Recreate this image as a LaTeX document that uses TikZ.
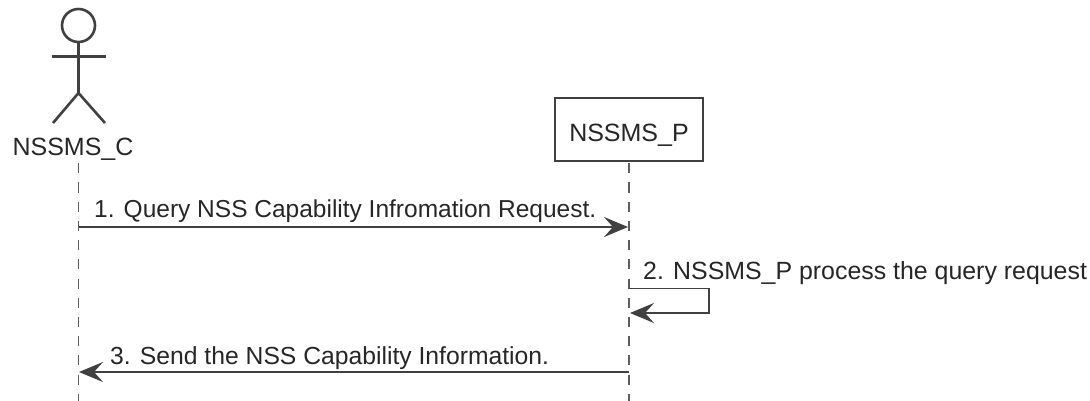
\documentclass[tikz,border=0pt]{standalone}
\usepackage{fontspec}
\setmainfont{Liberation Sans}
\usetikzlibrary{arrows.meta}
\definecolor{ink}{HTML}{404040}
\tikzset{
  x=1pt,y=-1pt,
  lifeline/.style={draw=ink!85,line width=1.8pt,dash pattern=on 10pt off 9.2pt},
  stick/.style={draw=ink,line width=2.6pt},
  msg/.style={draw=ink,line width=1.7pt,-{Stealth[length=24pt,width=20pt,inset=9pt]}},
  msgtext/.style={text=black!85,font=\fontsize{#1}{28}\selectfont,anchor=base west,inner sep=0pt},
  nametext/.style={text=black!85,font=\fontsize{25}{28}\selectfont,anchor=base,inner sep=0pt},
  partbox/.style={draw=ink,line width=2.6pt,fill=white,minimum width=148pt,minimum height=63pt,inner sep=0pt,
    text height=24.4pt,text depth=0pt,text=black!85,font=\fontsize{25}{28}\selectfont}
}
\begin{document}
\begin{tikzpicture}
\useasboundingbox (0,0) rectangle (1090,401);
\coordinate (ctop) at (78.5,163.3);
\coordinate (cbot) at (78.5,401);
\coordinate (ptop) at (629,163.3);
\coordinate (pbot) at (629,401);
\draw[lifeline] (ctop) -- (cbot);
\draw[lifeline] (ptop) -- (pbot);
\node[partbox] (P) at (629,129.5) {NSSMS\_P};
\node[circle,stick,minimum size=33pt,inner sep=0pt] (head) at (78.5,25.5) {};
\coordinate (hip) at (78.5,93);
\coordinate (armL) at (52,56.7);
\coordinate (armR) at (105.5,56.7);
\coordinate (legL) at (53,123);
\coordinate (legR) at (105,123);
\draw[stick] (head.south) -- (hip);
\draw[stick] (armL) -- (armR);
\draw[stick] (legL) -- (hip) -- (legR);
\node[nametext] (C) at (73,156) {NSSMS\_C};
\coordinate (m1a) at (78.5,227);
\coordinate (m1b) at (628,227);
\draw[msg] (m1a) -- (m1b);
\node[msgtext=24.5] (t1) at (94,218) {1. Query NSS Capability Infromation Request.};
\coordinate (m2a) at (629,288.5);
\coordinate (m2b) at (709,288.5);
\coordinate (m2c) at (709,313);
\coordinate (m2d) at (630,313);
\draw[msg] (m2a) -- (m2b) -- (m2c) -- (m2d);
\node[msgtext=24.9] (t2) at (643,279.5) {2. NSSMS\_P process the query request};
\coordinate (m3a) at (629,372);
\coordinate (m3b) at (79,372);
\draw[msg] (m3a) -- (m3b);
\node[msgtext=24.7] (t3) at (110,364) {3. Send the NSS Capability Information.};
\end{tikzpicture}
\end{document}
